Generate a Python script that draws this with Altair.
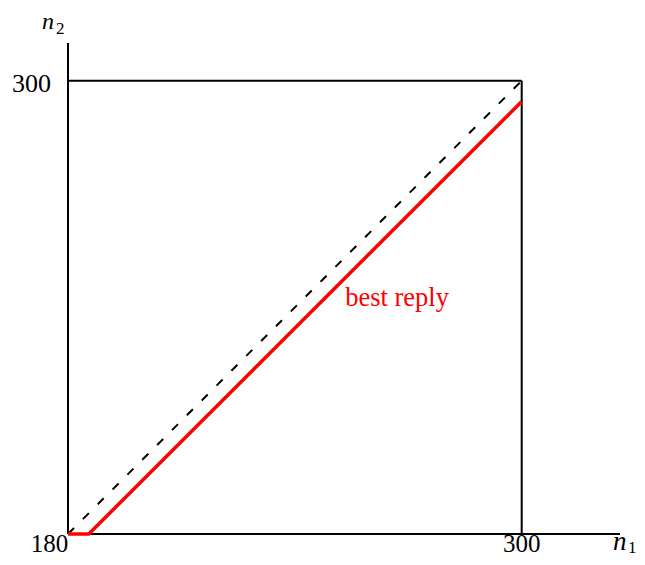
import altair as alt
import pandas as pd

# Axis / box extents (data units)
n_min = 180
n_max = 300
n1_axis_end = 326
n2_axis_end = 310

# Best-reply curve
reply_n1 = [180, 185.5, 300]
reply_n2 = [180, 180, 294.5]

# Tick labels
tick_values = [180, 300]
tick_labels = ["180", "300"]

FONT = "Liberation Serif"

xs = alt.Scale(domain=[n_min, n1_axis_end], nice=False, zero=False)
ys = alt.Scale(domain=[n_min, n2_axis_end], nice=False, zero=False)

solid = pd.DataFrame({
    "x": [n_min, n_min, n_min, n_max],
    "y": [n_min, n_min, n_max, n_min],
    "x2": [n1_axis_end, n_min, n_max, n_max],
    "y2": [n_min, n2_axis_end, n_max, n_max],
})
diag = pd.DataFrame({"x": [n_min], "y": [n_min], "x2": [n_max], "y2": [n_max]})
reply = pd.DataFrame({"x": reply_n1, "y": reply_n2, "o": list(range(len(reply_n1)))})

def enc(ch):
    return ch.encode(
        x=alt.X("x:Q", scale=xs, axis=None),
        y=alt.Y("y:Q", scale=ys, axis=None),
        x2="x2:Q", y2="y2:Q",
    )

solid_layer = enc(alt.Chart(solid).mark_rule(color="black", strokeWidth=2))
diag_layer = enc(alt.Chart(diag).mark_rule(color="black", strokeWidth=2, strokeDash=[8.5, 12.5]))
reply_layer = alt.Chart(reply).mark_line(color="#ff0000", strokeWidth=3.5).encode(
    x=alt.X("x:Q", scale=xs, axis=None),
    y=alt.Y("y:Q", scale=ys, axis=None),
    order="o:Q",
)

def label(text, xv, yv, **kw):
    df = pd.DataFrame({"x": [xv], "y": [yv], "t": [text]})
    return alt.Chart(df).mark_text(font=FONT, baseline="alphabetic", **kw).encode(
        x=alt.X("x:Q", scale=xs, axis=None),
        y=alt.Y("y:Q", scale=ys, axis=None),
        text="t:N",
    )

layers = [
    solid_layer, diag_layer, reply_layer,
    label(tick_labels[1], n_min, tick_values[1], fontSize=26, align="right", dx=-17, dy=11.5, color="black"),
    label(tick_labels[0], n_min, n_min, fontSize=25, align="center", dx=-18.5, dy=17.5, color="black"),
    label(tick_labels[1], tick_values[1], n_min, fontSize=25, align="center", dx=0, dy=17.5, color="black"),
    label("n", n1_axis_end, n_min, fontSize=27, fontStyle="italic", align="left", dx=-7, dy=16, color="black"),
    label("1", n1_axis_end, n_min, fontSize=17, align="left", dx=8, dy=19, color="black"),
    label("n", n_min, n2_axis_end, fontSize=24, fontStyle="italic", align="left", dx=-26, dy=-14, color="black"),
    label("2", n_min, n2_axis_end, fontSize=17, align="left", dx=-12, dy=-9, color="black"),
    label("best reply", 253.3, 240.4, fontSize=26.5, align="left", color="#ff0000"),
]

chart = alt.layer(*layers).properties(
    width=552,
    height=491,
    autosize=alt.AutoSizeParams(type="none"),
    padding={"left": 60, "top": 35, "right": 17, "bottom": 23},
).configure_view(stroke=None)

chart.save("out.html", embed_options={"renderer": "svg", "actions": False})
